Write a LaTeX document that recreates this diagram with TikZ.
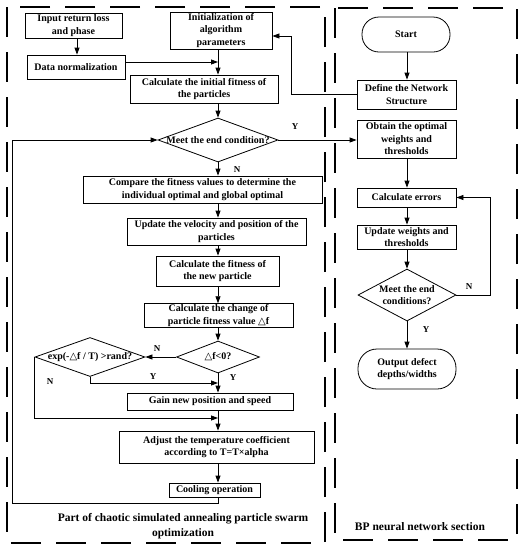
\documentclass[tikz,border=0pt]{standalone}
\usepackage{fontspec}
\setmainfont{Liberation Serif}
\newfontfamily\symf{DejaVu Sans}
\usetikzlibrary{shapes.geometric,arrows.meta}
\tikzset{
 box/.style={draw, line width=0.8pt, inner sep=1pt, align=center, font=\fontsize{10}{12.5}\selectfont\bfseries},
 dia/.style={draw, diamond, line width=0.8pt, inner sep=0pt},
 diatext/.style={align=center, inner sep=0pt, font=\fontsize{10}{12.5}\selectfont\bfseries},
 arr/.style={line width=0.8pt, -{Triangle[length=7pt,width=5pt]}},
 lab/.style={font=\fontsize{9}{10}\selectfont\bfseries},
 ttl/.style={align=center, font=\fontsize{11.5}{15}\selectfont\bfseries},
 frame/.style={line width=2pt, dash pattern=on 30pt off 15pt},
}
\begin{document}
\begin{tikzpicture}[x=1pt,y=-1pt]
\useasboundingbox (0,0) rectangle (526,550);
% frames
\draw[frame] (7,7) rectangle (325,543);
\draw[frame] (335,8) rectangle (517,540);
% columns
\coordinate (cA) at (218,0);
\coordinate (cB) at (77,0);
\coordinate (cR) at (407,0);
% left nodes
\node[box, minimum width=97pt, minimum height=25pt] (inp) at (73.5,25.5) {Input return loss\\and phase};
\node[box, minimum width=98pt, minimum height=24pt] (norm) at (76,67) {Data normalization};
\node[box, minimum width=102pt, minimum height=37pt] (init) at (221,30.5) {Initialization of\\algorithm\\parameters};
\node[box, minimum width=148pt, minimum height=28pt] (calc0) at (204,89) {Calculate the initial fitness of\\the particles};
\node[dia, minimum width=120pt, minimum height=44pt, label={[diatext]center:Meet the end condition?}] (d1) at (218,140) {};
\node[box, minimum width=239pt, minimum height=27pt] (cmp) at (202.5,189.5) {Compare the fitness values to determine the\\individual optimal and global optimal};
\node[box, minimum width=179pt, minimum height=27pt] (upd) at (216.5,231.5) {Update the velocity and position of the\\particles};
\node[box, minimum width=123pt, minimum height=30pt] (fit) at (217.5,271) {Calculate the fitness of\\the new particle};
\node[box, minimum width=149pt, minimum height=23pt] (chg) at (218.5,315.5) {Calculate the change of\\particle fitness value {\symf △}f};
\node[dia, minimum width=83pt, minimum height=32pt, label={[diatext]center:{\symf △}f<0?}] (d2) at (218,357) {};
\node[dia, minimum width=110pt, minimum height=39pt, label={[diatext]center:exp(-{\symf △}f / T) >rand?}] (d3) at (90,357) {};
\node[box, minimum width=166pt, minimum height=17pt] (gain) at (210,401.5) {Gain new position and speed};
\node[box, minimum width=195pt, minimum height=32pt] (adj) at (216.5,447) {Adjust the temperature coefficient\\according to T=T×alpha};
\node[box, minimum width=91pt, minimum height=14pt] (cool) at (214.5,490) {Cooling operation};
% right nodes
\node[box, minimum width=88pt, minimum height=35pt, rounded corners=17pt] (start) at (406,34.5) {Start};
\node[box, minimum width=99pt, minimum height=29pt] (def) at (406.5,94.5) {Define the Network\\Structure};
\node[box, minimum width=99pt, minimum height=38pt] (opt) at (406.5,139) {Obtain the optimal\\weights and\\thresholds};
\node[box, minimum width=99pt, minimum height=19pt] (err) at (406.5,197.5) {Calculate errors};
\node[box, minimum width=99pt, minimum height=24pt] (updw) at (406.5,237) {Update weights and\\thresholds};
\node[dia, minimum width=98pt, minimum height=52pt, label={[diatext]center:Meet the end\\conditions?}] (d4) at (407,295) {};
\node[box, minimum width=98pt, minimum height=40pt, rounded corners=19pt] (out) at (407,369) {Output defect\\depths/widths};
% left connectors
\draw[arr] (inp.south -| cB) -- (norm.north -| cB);
\draw[arr] (init.south -| cA) -- (calc0.north -| cA);
\draw[arr] ([yshift=5pt]norm.east) -- ([yshift=5pt]norm.east -| cA);
\draw[arr] (calc0.south -| cA) -- (d1.north);
\draw[arr] (d1.south) -- (cmp.north -| cA);
\draw[arr] (cmp.south -| cA) -- (upd.north -| cA);
\draw[arr] (upd.south -| cA) -- (fit.north -| cA);
\draw[arr] (fit.south -| cA) -- (chg.north -| cA);
\draw[arr] (chg.south -| cA) -- (d2.north);
\draw[arr] (d2.west) -- (d3.east);
\draw[arr] (d2.south) -- (gain.north -| cA);
\coordinate (jy) at (218,383);
\coordinate (jn) at (218,418);
\draw[arr] (d3.south) |- (jy);
\draw[arr] (d3.west) |- (jn);
\draw[arr] (gain.south -| cA) -- (adj.north -| cA);
\draw[arr] (adj.south -| cA) -- (cool.north -| cA);
\coordinate (lp) at (12,503);
\draw[arr] (cool.south -| cA) |- (lp) |- (d1.west);
% right connectors
\draw[arr] (start.south -| cR) -- (def.north -| cR);
\draw[arr] (def.west) -- ++(-65,0) |- ([yshift=-5.5pt]init.east);
\draw[arr] (d1.east) -- (d1.east -| opt.west);
\draw[arr] (opt.south -| cR) -- (err.north -| cR);
\draw[arr] (err.south -| cR) -- (updw.north -| cR);
\draw[arr] (updw.south -| cR) -- (d4.north);
\draw[arr] (d4.east) -- ++(34,0) |- (err.east);
\draw[arr] (d4.south) -- (out.north -| cR);
% labels
\node[lab] at (295,127) {Y};
\node[lab] at (237,170) {N};
\node[lab] at (157,349) {N};
\node[lab] at (153,377) {Y};
\node[lab] at (233,378) {Y};
\node[lab] at (50,382) {N};
\node[lab] at (469,287) {N};
\node[lab] at (426,330) {Y};
% titles
\node[ttl] (t1) at (183,526) {Part of chaotic simulated annealing particle swarm\\optimization};
\node[ttl] (t2) at (420,527) {BP neural network section};
\end{tikzpicture}
\end{document}
